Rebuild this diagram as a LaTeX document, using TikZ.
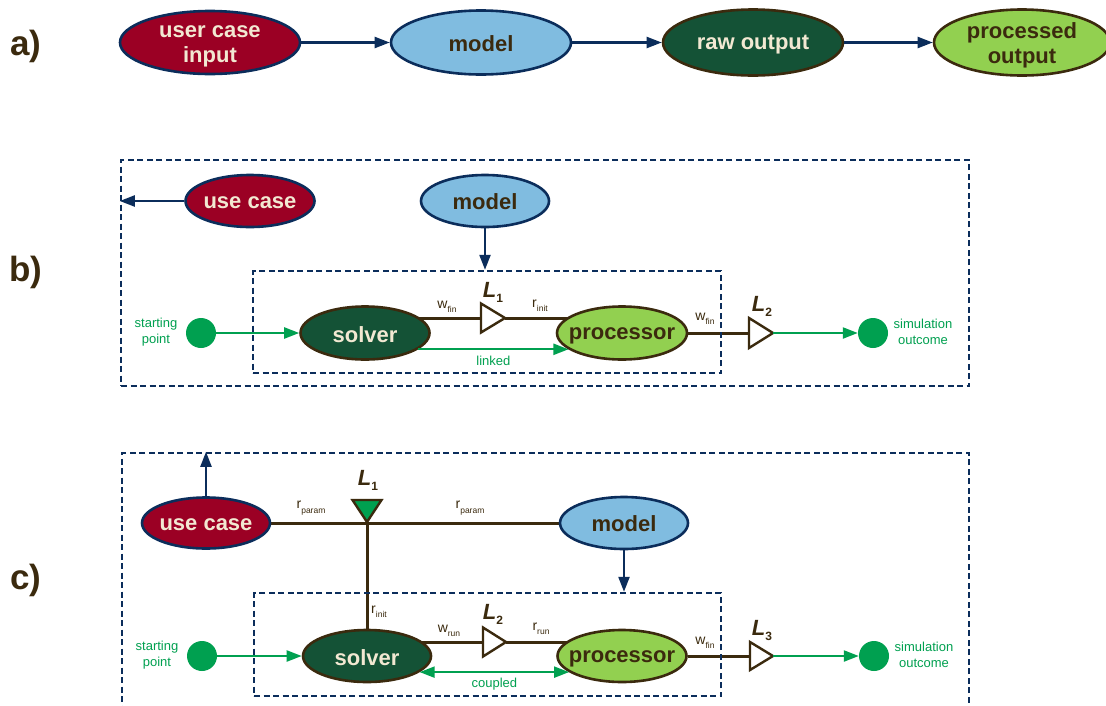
\documentclass[tikz,border=0pt]{standalone}
\usepackage{fontspec}
\setmainfont{Liberation Sans}
\usetikzlibrary{arrows.meta,calc,shapes.geometric,backgrounds}
\definecolor{navy}{HTML}{0B2D5B}
\definecolor{dred}{HTML}{9B0024}
\definecolor{lblue}{HTML}{80BCE0}
\definecolor{dgreen}{HTML}{145236}
\definecolor{lgreen}{HTML}{92D050}
\definecolor{brn}{HTML}{3B2A0E}
\definecolor{grn}{HTML}{00A050}
\definecolor{cream}{HTML}{F2E8D2}
\newcommand{\wsub}[2]{{\fontsize{14}{14}\selectfont #1}\raisebox{-4.5pt}{\fontsize{8.5}{9}\selectfont #2}}
\newcommand{\Lsub}[1]{{\fontsize{22}{22}\selectfont\bfseries\itshape L}\raisebox{-5pt}{\fontsize{12}{12}\selectfont\bfseries #1}}
\begin{document}
\begin{tikzpicture}[x=1pt,y=-1pt,
  etxt/.style={font=\fontsize{22}{24.5}\selectfont\bfseries, align=center, inner sep=0pt},
  ell/.style={ellipse, draw, line width=2.6pt, inner sep=0pt},
  uc/.style 2 args={ell, fill=dred, draw=navy, label={[etxt, text=cream, yshift=-#2]center:#1}},
  mdl/.style 2 args={ell, fill=lblue, draw=navy, label={[etxt, text=brn, yshift=-#2]center:#1}},
  solv/.style 2 args={ell, fill=dgreen, draw=brn, label={[etxt, text=cream, yshift=-#2]center:#1}},
  proc/.style 2 args={ell, fill=lgreen, draw=brn, label={[etxt, text=brn, yshift=-#2]center:#1}},
  navarr/.style={draw=navy, line width=2.2pt, -{Triangle[length=15pt,width=11pt]}},
  grarr/.style={draw=grn, line width=2.2pt, -{Triangle[length=15pt,width=11pt]}},
  link/.style={draw=brn, line width=3pt},
  tribox/.style={inner sep=0pt, outer sep=0pt},
  tri/.style={draw=brn, line width=2.4pt, fill=white, line join=miter},
  dbox/.style={draw=navy, line width=2.4pt, dash pattern=on 6pt off 3.5pt, inner sep=0pt},
  dot/.style={circle, fill=grn, minimum size=30pt, inner sep=0pt},
  glbl/.style={font=\fontsize{13}{15.5}\selectfont, text=grn, align=center},
  wl/.style={text=brn, inner sep=0pt},
  rowlbl/.style={font=\fontsize{35}{35}\selectfont\bfseries, text=brn}
]
\useasboundingbox (0,0) rectangle (1106,705);
\begin{scope}[on background layer]
\fill[white] (0,0) rectangle (1106,705);
\end{scope}

% row labels
\node[rowlbl] (la) at (26,46) {a)};
\node[rowlbl] (lb) at (26,272) {b)};
\node[rowlbl] (lc) at (26,580) {c)};

% ---------- a) ----------
\node[uc={user case\\input}{4pt}, minimum width=180pt, minimum height=63pt] (a1) at (210,42.5) {};
\node[mdl={model}{1pt}, minimum width=180pt, minimum height=64pt] (a2) at (481,42.5) {};
\node[solv={raw output}{2.5pt}, minimum width=180pt, minimum height=66pt] (a3) at (753,42.5) {};
\node[proc={processed\\output}{3pt}, minimum width=176pt, minimum height=66pt] (a4) at (1022,42.5) {};
\draw[navarr] (a1.east) -- (a2.west);
\draw[navarr] (a2.east) -- (a3.west);
\draw[navarr] (a3.east) -- (a4.west);

% ---------- b) ----------
\node[dbox, minimum width=848pt, minimum height=226pt] (bOut) at (545,273) {};
\node[dbox, minimum width=468pt, minimum height=102pt] (bIn) at (487,322) {};
\node[uc={use case}{1.5pt}, minimum width=129pt, minimum height=52pt] (buc) at (250,201) {};
\node[mdl={model}{1pt}, minimum width=128pt, minimum height=52pt] (bmd) at (485,201) {};
\draw[navarr] (buc.west) -- (buc.west -| bOut.west);
\draw[navarr] (bmd.south) -- (bmd.south |- bIn.north);
\node[dot] (bsp) at (201,333) {};
\node[glbl] (bspt) at (156,332) {starting\\point};
\node[solv={solver}{1.5pt}, minimum width=129pt, minimum height=53pt] (bsv) at (365,333) {};
\node[proc={processor}{2.5pt}, minimum width=130pt, minimum height=53pt] (bpr) at (622,333) {};
\node[tribox, minimum width=24pt, minimum height=29pt] (bL1) at (493,318) {};
\node[tribox, minimum width=24pt, minimum height=30pt] (bL2) at (761,333) {};
\node[dot] (bso) at (873,333) {};
\node[glbl] (bsot) at (923,332) {simulation\\outcome};
\begin{scope}[on background layer]
\draw[link] (bsv.center |- bL1.west) -- (bL1.west);
\draw[link] (bL1.east) -- (bL1.east -| bpr.center);
\draw[link] (bpr.east) -- (bL2.west);
\end{scope}
\draw[tri] (bL1.north west) -- (bL1.east) -- (bL1.south west) -- cycle;
\draw[tri] (bL2.north west) -- (bL2.east) -- (bL2.south west) -- cycle;
\draw[grarr] (bsp.east) -- (bsv.west);
\draw[grarr] (bsv.-17) -- node[glbl, below=2pt] (blk) {linked} (bpr.197 |- bsv.-17);
\draw[grarr] (bL2.east) -- (bso.west);
\node[wl] (bw1) at (447,307) {\wsub{w}{fin}};
\node[wl] (br1) at (540,306) {\wsub{r}{init}};
\node[wl] (bL1t) at (493,292) {\Lsub{1}};
\node[wl] (bw2) at (705,319) {\wsub{w}{fin}};
\node[wl] (bL2t) at (762,306) {\Lsub{2}};

% ---------- c) ----------
\node[dbox, minimum width=847pt, minimum height=267pt] (cOut) at (545.5,586.5) {};
\node[dbox, minimum width=467pt, minimum height=103pt] (cIn) at (487.5,644.5) {};
\node[uc={use case}{1.5pt}, minimum width=128pt, minimum height=51pt] (cuc) at (206,523) {};
\node[mdl={model}{1pt}, minimum width=128pt, minimum height=52pt] (cmd) at (624,523) {};
\draw[navarr] (cuc.north) -- (cuc.north |- cOut.north);
\draw[navarr] (cmd.south) -- (cmd.south |- cIn.north);
\node[tribox, minimum width=29pt, minimum height=22pt] (cL1) at (367,511) {};
\node[dot] (csp) at (202,656) {};
\node[glbl] (cspt) at (157,655) {starting\\point};
\node[solv={solver}{1.5pt}, minimum width=128pt, minimum height=52pt] (csv) at (367,656) {};
\node[proc={processor}{2.5pt}, minimum width=129pt, minimum height=52pt] (cpr) at (622,656) {};
\node[tribox, minimum width=23pt, minimum height=29pt] (cL2) at (494.5,642) {};
\node[tribox, minimum width=23pt, minimum height=28pt] (cL3) at (761.5,656) {};
\node[dot] (cso) at (874,656) {};
\node[glbl] (csot) at (924,655) {simulation\\outcome};
\begin{scope}[on background layer]
\draw[link] (cuc.east) -- (cmd.west);
\draw[link] (cL1.south) -- (csv.center);
\draw[link] (csv.center |- cL2.west) -- (cL2.west);
\draw[link] (cL2.east) -- (cL2.east -| cpr.center);
\draw[link] (cpr.east) -- (cL3.west);
\end{scope}
\draw[tri, fill=grn] (cL1.north west) -- (cL1.north east) -- (cL1.south) -- cycle;
\draw[tri] (cL2.north west) -- (cL2.east) -- (cL2.south west) -- cycle;
\draw[tri] (cL3.north west) -- (cL3.east) -- (cL3.south west) -- cycle;
\draw[grarr] (csp.east) -- (csv.west);
\draw[grarr, {Triangle[length=15pt,width=11pt]}-{Triangle[length=15pt,width=11pt]}] (csv.-17) -- node[glbl, below=2pt] (ccp) {coupled} (cpr.197 |- csv.-17);
\draw[grarr] (cL3.east) -- (cso.west);
\node[wl] (cr1) at (311,508) {\wsub{r}{param}};
\node[wl] (cr2) at (470,508) {\wsub{r}{param}};
\node[wl] (cL1t) at (368,480) {\Lsub{1}};
\node[wl] (cri) at (379,612) {\wsub{r}{init}};
\node[wl] (cw1) at (449,631) {\wsub{w}{run}};
\node[wl] (cr3) at (541,629) {\wsub{r}{run}};
\node[wl] (cL2t) at (493,614) {\Lsub{2}};
\node[wl] (cw2) at (705,643) {\wsub{w}{fin}};
\node[wl] (cL3t) at (762,630) {\Lsub{3}};
\end{tikzpicture}
\end{document}
